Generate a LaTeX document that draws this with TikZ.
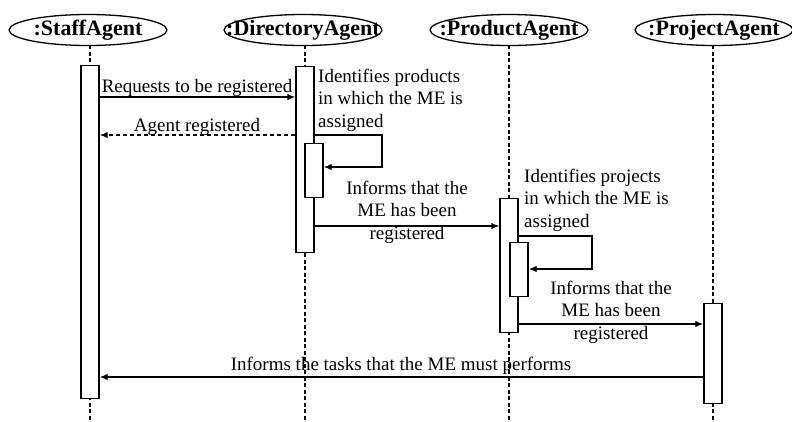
\documentclass[tikz,border=0pt]{standalone}
\usepackage{fontspec}
\setmainfont{Liberation Serif}
\usetikzlibrary{calc,arrows.meta}
\newcommand{\agentfont}{\fontsize{22}{26}\selectfont\bfseries}
\newcommand{\msgfont}{\fontsize{19}{22.5}\selectfont}
\newcommand{\actbox}[4]{\node[actbox, minimum height=#4-#3, anchor=north] (#1) at (#2,#3) {}}

\begin{document}
\begin{tikzpicture}[x=1pt, y=-1pt,
    agent/.style={font=\agentfont, inner sep=0pt},
    lifeline/.style={line width=1.2pt, dash pattern=on 4pt off 2.5pt},
    actbox/.style={draw, fill=white, line width=1.4pt, minimum width=18pt, inner sep=0pt},
    msg/.style={line width=1.3pt, -{Latex[length=8pt,width=6.5pt]}},
    reply/.style={msg, dash pattern=on 4pt off 3pt},
    msgtext/.style={font=\msgfont, inner sep=0pt}]
\useasboundingbox (0,0) rectangle (792,421);

\node[agent] (staff) at (88,30) {:StaffAgent};
\node[agent] (dir) at (303,30) {:DirectoryAgent};
\node[agent] (prod) at (509,30) {:ProductAgent};
\node[agent] (proj) at (714,30) {:ProjectAgent};
\foreach \a in {staff, dir, prod, proj}
    \draw[line width=1.3pt] (\a) ellipse [x radius=79, y radius=15.5];

\coordinate (bottom) at (0,421);
\foreach \a/\x in {staff/90, dir/305, prod/509, proj/713} {
    \coordinate (\a line) at (\x,45);
    \draw[lifeline] (\a line) -- (\a line |- bottom);
}

\actbox{sbox}{90}{65}{398};
\actbox{dbox}{305}{66}{252};
\actbox{dinner}{314}{143}{197};
\actbox{pbox}{509}{198}{332};
\actbox{pinner}{519}{242}{296};
\actbox{jbox}{713}{303}{403};

\coordinate (yreq) at (0,97);
\coordinate (yreg) at (0,135);
\coordinate (dloop) at (382,167);
\coordinate (yinf1) at (0,226);
\coordinate (yprj) at (0,236);
\coordinate (ploop) at (592,269);
\coordinate (yinf2) at (0,324);
\coordinate (ytask) at (0,377);

\draw[msg] (sbox.east |- yreq) -- (dbox.west |- yreq);
\draw[reply] (dbox.west |- yreg) -- (sbox.east |- yreg);
\draw[msg] (dbox.east |- yreg) -| (dloop) -- (dinner.east |- dloop);
\draw[msg] (dbox.east |- yinf1) -- (pbox.west |- yinf1);
\draw[msg] (pbox.east |- yprj) -| (ploop) -- (pinner.east |- ploop);
\draw[msg] (pbox.east |- yinf2) -- (jbox.west |- yinf2);
\draw[msg] (jbox.west |- ytask) -- (sbox.east |- ytask);

\node[msgtext] (lreq) at (197,88) {Requests to be registered};
\node[msgtext] (lreg) at (197,127) {Agent registered};
\node[msgtext, align=left, anchor=west] (lprod) at (318,100) {Identifies products\\in which the ME is\\assigned};
\node[msgtext, align=center] (linf1) at (407,212) {Informs that the\\ME has been\\registered};
\node[msgtext, align=left, anchor=west] (lproj) at (524,200) {Identifies projects\\in which the ME is\\assigned};
\node[msgtext, align=center] (linf2) at (611,312) {Informs that the\\ME has been\\registered};
\node[msgtext] (ltask) at (401,366) {Informs the tasks that the ME must performs};
\end{tikzpicture}
\end{document}
